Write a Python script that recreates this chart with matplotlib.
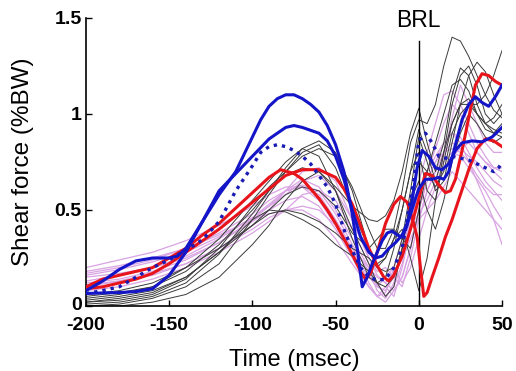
import numpy as np
import matplotlib
matplotlib.use("Agg")
import matplotlib.pyplot as plt
from matplotlib.transforms import ScaledTranslation

plt.rcParams['font.family'] = ['Liberation Sans', 'DejaVu Sans']

# Thin individual traces, sampled on a shared time grid (msec)
t_thin = [-200, -180, -160, -140, -120, -100, -90, -80, -70, -60, -50, -40, -30, -25,
          -20, -15, -10, -5, 0, 5, 10, 15, 20, 25, 30, 35, 40, 45, 50]

black_traces = [
    [0.02, 0.03, 0.06, 0.14, 0.30, 0.52, 0.62, 0.70, 0.78, 0.82, 0.78, 0.62, 0.40, 0.30,
     0.30, 0.40, 0.60, 0.85, 0.97, 0.95, 1.05, 1.25, 1.40, 1.38, 1.30, 1.20, 1.10, 1.02, 0.98],
    [0.00, 0.01, 0.04, 0.10, 0.22, 0.45, 0.58, 0.70, 0.80, 0.84, 0.72, 0.50, 0.30, 0.22,
     0.25, 0.35, 0.50, 0.70, 0.80, 0.60, 0.55, 0.75, 0.95, 1.05, 1.05, 1.05, 1.10, 1.20, 1.33],
    [0.05, 0.07, 0.10, 0.18, 0.32, 0.50, 0.60, 0.68, 0.72, 0.70, 0.62, 0.52, 0.45, 0.44,
     0.47, 0.55, 0.70, 0.90, 1.03, 0.85, 0.70, 0.85, 1.10, 1.24, 1.20, 1.05, 0.95, 0.92, 0.90],
    [0.03, 0.05, 0.08, 0.15, 0.28, 0.42, 0.48, 0.50, 0.48, 0.44, 0.38, 0.30, 0.25, 0.20,
     0.18, 0.20, 0.35, 0.60, 0.88, 0.75, 0.60, 0.65, 0.85, 1.05, 1.20, 1.27, 1.22, 1.10, 1.00],
    [0.01, 0.02, 0.05, 0.12, 0.27, 0.48, 0.60, 0.72, 0.82, 0.86, 0.80, 0.60, 0.30, 0.20,
     0.25, 0.35, 0.40, 0.25, 0.08, 0.25, 0.55, 0.80, 0.95, 1.05, 1.08, 1.00, 0.95, 0.90, 0.88],
    [0.04, 0.06, 0.10, 0.20, 0.35, 0.55, 0.65, 0.75, 0.82, 0.78, 0.60, 0.35, 0.15, 0.12,
     0.15, 0.30, 0.50, 0.70, 0.92, 0.80, 0.65, 0.80, 1.05, 1.20, 1.25, 1.15, 1.00, 0.95, 1.00],
    [0.00, 0.00, 0.02, 0.06, 0.15, 0.32, 0.42, 0.55, 0.65, 0.70, 0.60, 0.40, 0.22, 0.12,
     0.10, 0.15, 0.30, 0.55, 0.75, 0.70, 0.62, 0.70, 0.90, 1.00, 1.05, 1.00, 0.92, 0.90, 0.95],
    [0.06, 0.08, 0.12, 0.20, 0.30, 0.42, 0.50, 0.58, 0.62, 0.60, 0.52, 0.38, 0.30, 0.35,
     0.40, 0.40, 0.35, 0.30, 0.50, 0.70, 0.85, 1.00, 1.15, 1.18, 1.12, 1.00, 0.95, 0.98, 1.05],
    [0.02, 0.04, 0.07, 0.15, 0.28, 0.45, 0.50, 0.49, 0.45, 0.40, 0.32, 0.26, 0.18, 0.12,
     0.05, 0.10, 0.30, 0.55, 0.65, 0.50, 0.40, 0.55, 0.75, 0.90, 1.00, 0.95, 0.88, 0.85, 0.88],
]

pink_traces = [
    [0.20, 0.24, 0.28, 0.34, 0.42, 0.52, 0.58, 0.62, 0.62, 0.55, 0.42, 0.28, 0.15, 0.10,
     0.08, 0.15, 0.30, 0.45, 0.60, 0.70, 0.78, 0.85, 0.90, 0.85, 0.75, 0.65, 0.55, 0.45, 0.32],
    [0.18, 0.21, 0.25, 0.30, 0.38, 0.48, 0.55, 0.60, 0.62, 0.58, 0.45, 0.30, 0.12, 0.05,
     0.10, 0.05, 0.20, 0.40, 0.65, 0.80, 0.95, 1.10, 1.12, 1.05, 0.95, 0.85, 0.78, 0.72, 0.70],
    [0.15, 0.17, 0.20, 0.25, 0.33, 0.44, 0.50, 0.55, 0.57, 0.52, 0.40, 0.25, 0.10, 0.05,
     0.02, 0.08, 0.15, 0.30, 0.50, 0.65, 0.75, 0.85, 0.90, 0.88, 0.80, 0.72, 0.65, 0.60, 0.55],
    [0.12, 0.14, 0.18, 0.24, 0.33, 0.45, 0.52, 0.60, 0.66, 0.62, 0.50, 0.35, 0.20, 0.15,
     0.12, 0.18, 0.25, 0.35, 0.45, 0.60, 0.70, 0.80, 0.85, 0.82, 0.78, 0.75, 0.70, 0.65, 0.62],
    [0.10, 0.13, 0.17, 0.22, 0.30, 0.40, 0.46, 0.50, 0.52, 0.50, 0.42, 0.30, 0.20, 0.12,
     0.05, 0.10, 0.22, 0.40, 0.55, 0.70, 0.82, 0.95, 1.05, 1.00, 0.90, 0.80, 0.75, 0.70, 0.66],
    [0.16, 0.19, 0.23, 0.28, 0.36, 0.46, 0.52, 0.58, 0.65, 0.68, 0.60, 0.45, 0.25, 0.18,
     0.20, 0.15, 0.10, 0.25, 0.45, 0.60, 0.70, 0.75, 0.80, 0.78, 0.72, 0.66, 0.60, 0.52, 0.45],
    [0.08, 0.10, 0.14, 0.20, 0.28, 0.38, 0.44, 0.50, 0.58, 0.60, 0.55, 0.40, 0.22, 0.10,
     0.15, 0.20, 0.12, 0.20, 0.35, 0.50, 0.62, 0.72, 0.78, 0.82, 0.85, 0.80, 0.75, 0.72, 0.72],
    [0.13, 0.16, 0.20, 0.26, 0.35, 0.46, 0.53, 0.60, 0.63, 0.60, 0.48, 0.32, 0.18, 0.08,
     0.04, 0.12, 0.28, 0.42, 0.48, 0.55, 0.65, 0.78, 0.98, 1.15, 1.05, 0.95, 0.85, 0.80, 0.80],
    [0.17, 0.20, 0.24, 0.30, 0.37, 0.45, 0.48, 0.50, 0.50, 0.45, 0.35, 0.22, 0.10, 0.05,
     0.07, 0.20, 0.35, 0.42, 0.45, 0.50, 0.55, 0.62, 0.70, 0.65, 0.60, 0.55, 0.50, 0.45, 0.40],
    [0.11, 0.13, 0.16, 0.22, 0.30, 0.42, 0.50, 0.60, 0.70, 0.72, 0.65, 0.45, 0.25, 0.16,
     0.12, 0.08, 0.15, 0.30, 0.50, 0.65, 0.75, 0.80, 0.82, 0.80, 0.75, 0.68, 0.62, 0.58, 0.58],
]

# Thick highlighted traces, each with its own sample times
blue1_t = [-200, -190, -180, -170, -160, -150, -140, -130, -120, -110, -100, -95, -90, -85,
           -80, -75, -70, -65, -60, -55, -50, -45, -40, -37, -34, -31, -28, -25, -22, -19,
           -16, -13, -10, -7, -4, -1, 2, 6, 10, 14, 18, 22, 26, 32, 38, 44, 50]
blue1_v = [0.065, 0.068, 0.07, 0.075, 0.09, 0.16, 0.28, 0.44, 0.58, 0.70, 0.88, 0.97, 1.04, 1.08,
           1.10, 1.10, 1.08, 1.05, 1.01, 0.94, 0.84, 0.70, 0.48, 0.30, 0.10, 0.15, 0.22, 0.28, 0.34, 0.38,
           0.39, 0.37, 0.36, 0.42, 0.55, 0.72, 0.81, 0.78, 0.72, 0.71, 0.74, 0.81, 0.85, 0.86, 0.855, 0.88, 0.93]

blue2_t = [-200, -190, -180, -170, -160, -150, -145, -140, -130, -120, -110, -100, -90, -80,
           -75, -70, -60, -55, -50, -45, -40, -35, -30, -26, -22, -18, -14, -10, -6, -2,
           0, 4, 8, 12, 15, 18, 22, 26, 30, 34, 38, 42, 46, 50]
blue2_v = [0.08, 0.13, 0.19, 0.235, 0.25, 0.25, 0.26, 0.30, 0.44, 0.60, 0.69, 0.78, 0.87, 0.93,
           0.94, 0.93, 0.90, 0.86, 0.78, 0.66, 0.50, 0.36, 0.28, 0.25, 0.26, 0.30, 0.33, 0.37, 0.45, 0.56,
           0.61, 0.66, 0.66, 0.67, 0.66, 0.70, 0.84, 0.97, 1.05, 1.09, 1.06, 1.04, 1.09, 1.15]

blue_dot_t = [-200, -190, -180, -170, -160, -150, -140, -130, -120, -110, -100, -95, -90, -85,
              -80, -75, -70, -65, -60, -55, -50, -45, -40, -35, -30, -25, -20, -15, -10, -7,
              -4, -2, 0, 4, 8, 12, 16, 20, 25, 30, 35, 40, 45, 48, 50]
blue_dot_v = [0.065, 0.08, 0.10, 0.15, 0.20, 0.24, 0.29, 0.345, 0.44, 0.60, 0.73, 0.80, 0.83, 0.84,
              0.83, 0.81, 0.78, 0.74, 0.68, 0.62, 0.53, 0.40, 0.29, 0.20, 0.15, 0.135, 0.14, 0.20, 0.30, 0.45,
              0.60, 0.72, 0.86, 0.90, 0.85, 0.78, 0.77, 0.78, 0.77, 0.76, 0.74, 0.72, 0.70, 0.72, 0.75]

red1_t = [-200, -190, -180, -170, -160, -150, -140, -130, -120, -110, -100, -90, -83, -75,
          -70, -65, -60, -55, -50, -45, -40, -35, -32, -29, -25, -20, -15, -11, -7, -4,
          -1, 1, 3, 5, 8, 12, 16, 20, 25, 30, 35, 40, 45, 50]
red1_v = [0.10, 0.14, 0.16, 0.18, 0.20, 0.25, 0.30, 0.37, 0.43, 0.51, 0.59, 0.67, 0.71, 0.69,
          0.66, 0.61, 0.56, 0.50, 0.43, 0.35, 0.27, 0.18, 0.14, 0.17, 0.28, 0.43, 0.53, 0.57, 0.54, 0.46,
          0.36, 0.20, 0.05, 0.07, 0.15, 0.25, 0.36, 0.45, 0.58, 0.71, 0.82, 0.87, 0.86, 0.83]

red2_t = [-200, -190, -180, -170, -160, -150, -140, -130, -120, -110, -100, -90, -80, -70,
          -60, -50, -45, -40, -35, -30, -25, -21, -18, -15, -10, -5, 0, 4, 8, 12,
          16, 19, 22, 26, 30, 34, 38, 42, 46, 50]
red2_v = [0.09, 0.10, 0.12, 0.14, 0.17, 0.22, 0.28, 0.34, 0.40, 0.47, 0.54, 0.61, 0.68, 0.71,
          0.71, 0.67, 0.61, 0.53, 0.42, 0.30, 0.21, 0.15, 0.13, 0.16, 0.26, 0.40, 0.56, 0.69, 0.68, 0.63,
          0.59, 0.60, 0.66, 0.81, 0.98, 1.15, 1.21, 1.20, 1.17, 1.15]

x_ticks = [-200, -150, -100, -50, 0, 50]
y_ticks = [0, 0.5, 1, 1.5]
y_tick_labels = ['0', '0.5', '1', '1.5']

fig = plt.figure(figsize=(5.16, 3.71), dpi=100)
ax = fig.add_axes([86 / 516, 1 - 306 / 371, 416 / 516, 288 / 371])

for v in pink_traces:
    ax.plot(t_thin, v, color='#d9a3e3', lw=0.9, zorder=1)
for v in black_traces:
    ax.plot(t_thin, v, color='#3a3a3a', lw=0.7, zorder=2)

# reference line at ball release
ax.plot([0, 0], [0, 1.38], color='black', lw=1.0, zorder=3)
ax.text(0, 1.425, 'BRL', ha='center', va='bottom', fontsize=16.5)

ax.plot(red2_t, red2_v, color='#e8141c', lw=2.2, zorder=4)
ax.plot(red1_t, red1_v, color='#e8141c', lw=2.2, zorder=4)
ax.plot(blue_dot_t, blue_dot_v, color='#1a1ab4', lw=2.4, ls=(0, (1, 1.5)), zorder=5)
ax.plot(blue2_t, blue2_v, color='#1414c8', lw=2.2, zorder=5)
ax.plot(blue1_t, blue1_v, color='#1414c8', lw=2.2, zorder=5)

ax.set_xlim(-200, 50)
ax.set_ylim(0, 1.5)
ax.set_xticks(x_ticks)
ax.set_xticklabels([str(x) for x in x_ticks])
ax.set_yticks(y_ticks)
ax.set_yticklabels(y_tick_labels)
for lab in ax.get_xticklabels() + ax.get_yticklabels():
    lab.set_fontweight('bold')
    lab.set_fontsize(14)
ax.tick_params(direction='in', length=4, width=1.0)
ax.tick_params(axis='x', pad=8)
ax.tick_params(axis='y', pad=3)

# nudge the "0" label up a little so it clears "-200"
zero_lab = ax.get_yticklabels()[0]
zero_lab.set_transform(zero_lab.get_transform() + ScaledTranslation(0, 2 / 72, fig.dpi_scale_trans))

ax.spines['top'].set_visible(False)
ax.spines['right'].set_visible(False)
ax.spines['left'].set_linewidth(1.2)
ax.spines['bottom'].set_linewidth(1.2)

ax.set_xlabel('Time (msec)', fontsize=17)
ax.set_ylabel('Shear force (%BW)', fontsize=17.5)
ax.xaxis.set_label_coords(0.5, -0.15)
ax.yaxis.set_label_coords(-0.125, 0.5)

fig.savefig('out.png', dpi=100)
